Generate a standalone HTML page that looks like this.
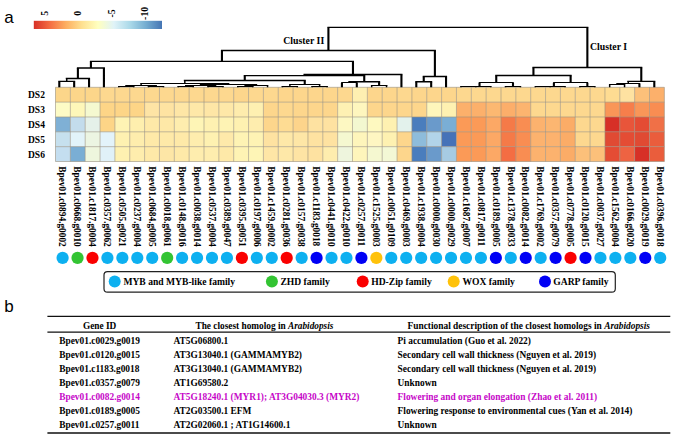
<!DOCTYPE html>
<html><head><meta charset="utf-8"><title>Figure</title>
<style>html,body{margin:0;padding:0;background:#fff;}svg{display:block;}
.s{font-family:"Liberation Serif",serif;font-weight:bold;}
.a{font-family:"Liberation Sans",sans-serif;}</style></head><body>
<svg width="674" height="437" viewBox="0 0 674 437">
<rect width="674" height="437" fill="#fff"/>
<defs><linearGradient id="cb" x1="0" x2="1" y1="0" y2="0"><stop offset="0" stop-color="#d73027"/><stop offset="0.125" stop-color="#f46d43"/><stop offset="0.25" stop-color="#fdae61"/><stop offset="0.375" stop-color="#fee090"/><stop offset="0.5" stop-color="#ffffbf"/><stop offset="0.625" stop-color="#e0f3f8"/><stop offset="0.75" stop-color="#abd9e9"/><stop offset="0.875" stop-color="#74add1"/><stop offset="1" stop-color="#4575b4"/></linearGradient></defs>
<text class="a" x="4.3" y="22.7" font-size="17">a</text>
<text class="a" x="4.3" y="312.2" font-size="17">b</text>
<rect x="33.8" y="20.8" width="128.2" height="8.2" fill="url(#cb)"/>
<text class="s" font-size="9.8" text-anchor="middle" transform="translate(47.80,13.35) rotate(-90)">5</text>
<text class="s" font-size="9.8" text-anchor="middle" transform="translate(81.30,13.35) rotate(-90)">0</text>
<text class="s" font-size="9.8" text-anchor="middle" transform="translate(114.60,13.35) rotate(-90)">-5</text>
<text class="s" font-size="9.8" text-anchor="middle" transform="translate(147.90,13.35) rotate(-90)">-10</text>
<g>
<rect x="55.50" y="87.30" width="14.90" height="14.89" fill="#fcd68a"/>
<rect x="70.35" y="87.30" width="14.90" height="14.89" fill="#fcd68a"/>
<rect x="85.20" y="87.30" width="14.90" height="14.89" fill="#fcd68a"/>
<rect x="100.05" y="87.30" width="14.90" height="14.89" fill="#fdd88f"/>
<rect x="114.90" y="87.30" width="14.90" height="14.89" fill="#fdd88f"/>
<rect x="129.75" y="87.30" width="14.90" height="14.89" fill="#fdd88f"/>
<rect x="144.60" y="87.30" width="14.90" height="14.89" fill="#fdd88f"/>
<rect x="159.45" y="87.30" width="14.90" height="14.89" fill="#fdd88f"/>
<rect x="174.30" y="87.30" width="14.90" height="14.89" fill="#fdd88f"/>
<rect x="189.15" y="87.30" width="14.90" height="14.89" fill="#fdd88f"/>
<rect x="204.00" y="87.30" width="14.90" height="14.89" fill="#fdd88f"/>
<rect x="218.85" y="87.30" width="14.90" height="14.89" fill="#fdd88f"/>
<rect x="233.70" y="87.30" width="14.90" height="14.89" fill="#fdd68c"/>
<rect x="248.55" y="87.30" width="14.90" height="14.89" fill="#fdd88f"/>
<rect x="263.40" y="87.30" width="14.90" height="14.89" fill="#fdd88f"/>
<rect x="278.25" y="87.30" width="14.90" height="14.89" fill="#fdd68c"/>
<rect x="293.10" y="87.30" width="14.90" height="14.89" fill="#fdd68c"/>
<rect x="307.95" y="87.30" width="14.90" height="14.89" fill="#fdd68c"/>
<rect x="322.80" y="87.30" width="14.90" height="14.89" fill="#fdd68c"/>
<rect x="337.65" y="87.30" width="14.90" height="14.89" fill="#fdd88f"/>
<rect x="352.50" y="87.30" width="14.90" height="14.89" fill="#feefb1"/>
<rect x="367.35" y="87.30" width="14.90" height="14.89" fill="#fdd68c"/>
<rect x="382.20" y="87.30" width="14.90" height="14.89" fill="#fdd68c"/>
<rect x="397.05" y="87.30" width="14.90" height="14.89" fill="#fdd88f"/>
<rect x="411.90" y="87.30" width="14.90" height="14.89" fill="#fdd68c"/>
<rect x="426.75" y="87.30" width="14.90" height="14.89" fill="#fdd68c"/>
<rect x="441.60" y="87.30" width="14.90" height="14.89" fill="#fdd68c"/>
<rect x="456.45" y="87.30" width="14.90" height="14.89" fill="#fdd88f"/>
<rect x="471.30" y="87.30" width="14.90" height="14.89" fill="#fdd88f"/>
<rect x="486.15" y="87.30" width="14.90" height="14.89" fill="#fdd88f"/>
<rect x="501.00" y="87.30" width="14.90" height="14.89" fill="#fdd88f"/>
<rect x="515.85" y="87.30" width="14.90" height="14.89" fill="#fdd88f"/>
<rect x="530.70" y="87.30" width="14.90" height="14.89" fill="#fdd88f"/>
<rect x="545.55" y="87.30" width="14.90" height="14.89" fill="#fdd88f"/>
<rect x="560.40" y="87.30" width="14.90" height="14.89" fill="#fdd88f"/>
<rect x="575.25" y="87.30" width="14.90" height="14.89" fill="#fdd88f"/>
<rect x="590.10" y="87.30" width="14.90" height="14.89" fill="#fdd88f"/>
<rect x="604.95" y="87.30" width="14.90" height="14.89" fill="#fedc92"/>
<rect x="619.80" y="87.30" width="14.90" height="14.89" fill="#fee2a1"/>
<rect x="634.65" y="87.30" width="14.90" height="14.89" fill="#fcc07a"/>
<rect x="649.50" y="87.30" width="14.90" height="14.89" fill="#fcb06b"/>
<rect x="55.50" y="102.14" width="14.90" height="14.89" fill="#fdfbc5"/>
<rect x="70.35" y="102.14" width="14.90" height="14.89" fill="#fef7b9"/>
<rect x="85.20" y="102.14" width="14.90" height="14.89" fill="#f5f9d0"/>
<rect x="100.05" y="102.14" width="14.90" height="14.89" fill="#fdd587"/>
<rect x="114.90" y="102.14" width="14.90" height="14.89" fill="#fdd587"/>
<rect x="129.75" y="102.14" width="14.90" height="14.89" fill="#fdd587"/>
<rect x="144.60" y="102.14" width="14.90" height="14.89" fill="#fee4a5"/>
<rect x="159.45" y="102.14" width="14.90" height="14.89" fill="#fee3a2"/>
<rect x="174.30" y="102.14" width="14.90" height="14.89" fill="#fee6a6"/>
<rect x="189.15" y="102.14" width="14.90" height="14.89" fill="#fee8a8"/>
<rect x="204.00" y="102.14" width="14.90" height="14.89" fill="#fee6a6"/>
<rect x="218.85" y="102.14" width="14.90" height="14.89" fill="#fee8a8"/>
<rect x="233.70" y="102.14" width="14.90" height="14.89" fill="#feecad"/>
<rect x="248.55" y="102.14" width="14.90" height="14.89" fill="#fef0b1"/>
<rect x="263.40" y="102.14" width="14.90" height="14.89" fill="#fdd68c"/>
<rect x="278.25" y="102.14" width="14.90" height="14.89" fill="#fdd88f"/>
<rect x="293.10" y="102.14" width="14.90" height="14.89" fill="#fdd68c"/>
<rect x="307.95" y="102.14" width="14.90" height="14.89" fill="#fdd68c"/>
<rect x="322.80" y="102.14" width="14.90" height="14.89" fill="#fdd68c"/>
<rect x="337.65" y="102.14" width="14.90" height="14.89" fill="#fef1b3"/>
<rect x="352.50" y="102.14" width="14.90" height="14.89" fill="#fef6be"/>
<rect x="367.35" y="102.14" width="14.90" height="14.89" fill="#fdd68c"/>
<rect x="382.20" y="102.14" width="14.90" height="14.89" fill="#fdd68c"/>
<rect x="397.05" y="102.14" width="14.90" height="14.89" fill="#fdd68c"/>
<rect x="411.90" y="102.14" width="14.90" height="14.89" fill="#fdd68c"/>
<rect x="426.75" y="102.14" width="14.90" height="14.89" fill="#fef6bb"/>
<rect x="441.60" y="102.14" width="14.90" height="14.89" fill="#fef1b1"/>
<rect x="456.45" y="102.14" width="14.90" height="14.89" fill="#fcb06b"/>
<rect x="471.30" y="102.14" width="14.90" height="14.89" fill="#fcb06b"/>
<rect x="486.15" y="102.14" width="14.90" height="14.89" fill="#fcb871"/>
<rect x="501.00" y="102.14" width="14.90" height="14.89" fill="#fcae6a"/>
<rect x="515.85" y="102.14" width="14.90" height="14.89" fill="#fcb46f"/>
<rect x="530.70" y="102.14" width="14.90" height="14.89" fill="#fdd88f"/>
<rect x="545.55" y="102.14" width="14.90" height="14.89" fill="#fdd88f"/>
<rect x="560.40" y="102.14" width="14.90" height="14.89" fill="#fdd88f"/>
<rect x="575.25" y="102.14" width="14.90" height="14.89" fill="#fdd88f"/>
<rect x="590.10" y="102.14" width="14.90" height="14.89" fill="#fdd88f"/>
<rect x="604.95" y="102.14" width="14.90" height="14.89" fill="#f99658"/>
<rect x="619.80" y="102.14" width="14.90" height="14.89" fill="#f67e4b"/>
<rect x="634.65" y="102.14" width="14.90" height="14.89" fill="#f99658"/>
<rect x="649.50" y="102.14" width="14.90" height="14.89" fill="#f98d52"/>
<rect x="55.50" y="116.98" width="14.90" height="14.89" fill="#7fb0d5"/>
<rect x="70.35" y="116.98" width="14.90" height="14.89" fill="#c3dcec"/>
<rect x="85.20" y="116.98" width="14.90" height="14.89" fill="#e5f1e9"/>
<rect x="100.05" y="116.98" width="14.90" height="14.89" fill="#fdd587"/>
<rect x="114.90" y="116.98" width="14.90" height="14.89" fill="#fef3b4"/>
<rect x="129.75" y="116.98" width="14.90" height="14.89" fill="#feefae"/>
<rect x="144.60" y="116.98" width="14.90" height="14.89" fill="#fee9a8"/>
<rect x="159.45" y="116.98" width="14.90" height="14.89" fill="#fee8a7"/>
<rect x="174.30" y="116.98" width="14.90" height="14.89" fill="#feedae"/>
<rect x="189.15" y="116.98" width="14.90" height="14.89" fill="#fef5b6"/>
<rect x="204.00" y="116.98" width="14.90" height="14.89" fill="#fef1b1"/>
<rect x="218.85" y="116.98" width="14.90" height="14.89" fill="#fef3b4"/>
<rect x="233.70" y="116.98" width="14.90" height="14.89" fill="#fef1b1"/>
<rect x="248.55" y="116.98" width="14.90" height="14.89" fill="#feedae"/>
<rect x="263.40" y="116.98" width="14.90" height="14.89" fill="#fdd68c"/>
<rect x="278.25" y="116.98" width="14.90" height="14.89" fill="#fedc93"/>
<rect x="293.10" y="116.98" width="14.90" height="14.89" fill="#fdd48b"/>
<rect x="307.95" y="116.98" width="14.90" height="14.89" fill="#fee2a1"/>
<rect x="322.80" y="116.98" width="14.90" height="14.89" fill="#fee2a1"/>
<rect x="337.65" y="116.98" width="14.90" height="14.89" fill="#fdf8c2"/>
<rect x="352.50" y="116.98" width="14.90" height="14.89" fill="#f3f8d0"/>
<rect x="367.35" y="116.98" width="14.90" height="14.89" fill="#fef9c0"/>
<rect x="382.20" y="116.98" width="14.90" height="14.89" fill="#fef1b1"/>
<rect x="397.05" y="116.98" width="14.90" height="14.89" fill="#e3f2ec"/>
<rect x="411.90" y="116.98" width="14.90" height="14.89" fill="#4a7dbd"/>
<rect x="426.75" y="116.98" width="14.90" height="14.89" fill="#6a9acb"/>
<rect x="441.60" y="116.98" width="14.90" height="14.89" fill="#7aaed5"/>
<rect x="456.45" y="116.98" width="14.90" height="14.89" fill="#fb9a57"/>
<rect x="471.30" y="116.98" width="14.90" height="14.89" fill="#fb9a57"/>
<rect x="486.15" y="116.98" width="14.90" height="14.89" fill="#fca865"/>
<rect x="501.00" y="116.98" width="14.90" height="14.89" fill="#f57a48"/>
<rect x="515.85" y="116.98" width="14.90" height="14.89" fill="#f98d52"/>
<rect x="530.70" y="116.98" width="14.90" height="14.89" fill="#fcb26e"/>
<rect x="545.55" y="116.98" width="14.90" height="14.89" fill="#fcb671"/>
<rect x="560.40" y="116.98" width="14.90" height="14.89" fill="#fbac67"/>
<rect x="575.25" y="116.98" width="14.90" height="14.89" fill="#fdd88f"/>
<rect x="590.10" y="116.98" width="14.90" height="14.89" fill="#fdd88f"/>
<rect x="604.95" y="116.98" width="14.90" height="14.89" fill="#d73027"/>
<rect x="619.80" y="116.98" width="14.90" height="14.89" fill="#e8553a"/>
<rect x="634.65" y="116.98" width="14.90" height="14.89" fill="#e44c34"/>
<rect x="649.50" y="116.98" width="14.90" height="14.89" fill="#f07047"/>
<rect x="55.50" y="131.82" width="14.90" height="14.89" fill="#c6e0ee"/>
<rect x="70.35" y="131.82" width="14.90" height="14.89" fill="#e2f3f9"/>
<rect x="85.20" y="131.82" width="14.90" height="14.89" fill="#ecf5e2"/>
<rect x="100.05" y="131.82" width="14.90" height="14.89" fill="#e3f3fa"/>
<rect x="114.90" y="131.82" width="14.90" height="14.89" fill="#fef1b1"/>
<rect x="129.75" y="131.82" width="14.90" height="14.89" fill="#feedad"/>
<rect x="144.60" y="131.82" width="14.90" height="14.89" fill="#fee9a8"/>
<rect x="159.45" y="131.82" width="14.90" height="14.89" fill="#fee9a8"/>
<rect x="174.30" y="131.82" width="14.90" height="14.89" fill="#fee9a8"/>
<rect x="189.15" y="131.82" width="14.90" height="14.89" fill="#feedae"/>
<rect x="204.00" y="131.82" width="14.90" height="14.89" fill="#fef1b1"/>
<rect x="218.85" y="131.82" width="14.90" height="14.89" fill="#fee9aa"/>
<rect x="233.70" y="131.82" width="14.90" height="14.89" fill="#fef3b4"/>
<rect x="248.55" y="131.82" width="14.90" height="14.89" fill="#fef3b4"/>
<rect x="263.40" y="131.82" width="14.90" height="14.89" fill="#fee2a1"/>
<rect x="278.25" y="131.82" width="14.90" height="14.89" fill="#fee8a8"/>
<rect x="293.10" y="131.82" width="14.90" height="14.89" fill="#fee6a6"/>
<rect x="307.95" y="131.82" width="14.90" height="14.89" fill="#fee2a1"/>
<rect x="322.80" y="131.82" width="14.90" height="14.89" fill="#fee2a1"/>
<rect x="337.65" y="131.82" width="14.90" height="14.89" fill="#f5f8d0"/>
<rect x="352.50" y="131.82" width="14.90" height="14.89" fill="#fef5bb"/>
<rect x="367.35" y="131.82" width="14.90" height="14.89" fill="#fef6c2"/>
<rect x="382.20" y="131.82" width="14.90" height="14.89" fill="#fef1b1"/>
<rect x="397.05" y="131.82" width="14.90" height="14.89" fill="#fdd68c"/>
<rect x="411.90" y="131.82" width="14.90" height="14.89" fill="#8ebcdb"/>
<rect x="426.75" y="131.82" width="14.90" height="14.89" fill="#b2d4e9"/>
<rect x="441.60" y="131.82" width="14.90" height="14.89" fill="#4672b8"/>
<rect x="456.45" y="131.82" width="14.90" height="14.89" fill="#fb9a57"/>
<rect x="471.30" y="131.82" width="14.90" height="14.89" fill="#fb9a57"/>
<rect x="486.15" y="131.82" width="14.90" height="14.89" fill="#fca865"/>
<rect x="501.00" y="131.82" width="14.90" height="14.89" fill="#f57a48"/>
<rect x="515.85" y="131.82" width="14.90" height="14.89" fill="#f98d52"/>
<rect x="530.70" y="131.82" width="14.90" height="14.89" fill="#fcb26e"/>
<rect x="545.55" y="131.82" width="14.90" height="14.89" fill="#fcb26e"/>
<rect x="560.40" y="131.82" width="14.90" height="14.89" fill="#fbac67"/>
<rect x="575.25" y="131.82" width="14.90" height="14.89" fill="#fdd88f"/>
<rect x="590.10" y="131.82" width="14.90" height="14.89" fill="#fdd88f"/>
<rect x="604.95" y="131.82" width="14.90" height="14.89" fill="#e04a33"/>
<rect x="619.80" y="131.82" width="14.90" height="14.89" fill="#e44c34"/>
<rect x="634.65" y="131.82" width="14.90" height="14.89" fill="#e04a33"/>
<rect x="649.50" y="131.82" width="14.90" height="14.89" fill="#ea5d3c"/>
<rect x="55.50" y="146.66" width="14.90" height="14.89" fill="#c4def0"/>
<rect x="70.35" y="146.66" width="14.90" height="14.89" fill="#7aaed4"/>
<rect x="85.20" y="146.66" width="14.90" height="14.89" fill="#eef6dd"/>
<rect x="100.05" y="146.66" width="14.90" height="14.89" fill="#e0f1f8"/>
<rect x="114.90" y="146.66" width="14.90" height="14.89" fill="#fef1b1"/>
<rect x="129.75" y="146.66" width="14.90" height="14.89" fill="#feedad"/>
<rect x="144.60" y="146.66" width="14.90" height="14.89" fill="#fee9a8"/>
<rect x="159.45" y="146.66" width="14.90" height="14.89" fill="#fde6a6"/>
<rect x="174.30" y="146.66" width="14.90" height="14.89" fill="#fee9a8"/>
<rect x="189.15" y="146.66" width="14.90" height="14.89" fill="#feedae"/>
<rect x="204.00" y="146.66" width="14.90" height="14.89" fill="#feedae"/>
<rect x="218.85" y="146.66" width="14.90" height="14.89" fill="#fee9a8"/>
<rect x="233.70" y="146.66" width="14.90" height="14.89" fill="#fef3b4"/>
<rect x="248.55" y="146.66" width="14.90" height="14.89" fill="#fef5b6"/>
<rect x="263.40" y="146.66" width="14.90" height="14.89" fill="#fee6a6"/>
<rect x="278.25" y="146.66" width="14.90" height="14.89" fill="#fee8a8"/>
<rect x="293.10" y="146.66" width="14.90" height="14.89" fill="#fee4a4"/>
<rect x="307.95" y="146.66" width="14.90" height="14.89" fill="#fee2a1"/>
<rect x="322.80" y="146.66" width="14.90" height="14.89" fill="#feedae"/>
<rect x="337.65" y="146.66" width="14.90" height="14.89" fill="#eef5dd"/>
<rect x="352.50" y="146.66" width="14.90" height="14.89" fill="#fef5bb"/>
<rect x="367.35" y="146.66" width="14.90" height="14.89" fill="#f5f8d0"/>
<rect x="382.20" y="146.66" width="14.90" height="14.89" fill="#f3f8d5"/>
<rect x="397.05" y="146.66" width="14.90" height="14.89" fill="#fdd68c"/>
<rect x="411.90" y="146.66" width="14.90" height="14.89" fill="#4a7dbd"/>
<rect x="426.75" y="146.66" width="14.90" height="14.89" fill="#6a9acb"/>
<rect x="441.60" y="146.66" width="14.90" height="14.89" fill="#a6cbe3"/>
<rect x="456.45" y="146.66" width="14.90" height="14.89" fill="#fb9a57"/>
<rect x="471.30" y="146.66" width="14.90" height="14.89" fill="#fb9a57"/>
<rect x="486.15" y="146.66" width="14.90" height="14.89" fill="#fca865"/>
<rect x="501.00" y="146.66" width="14.90" height="14.89" fill="#f46d43"/>
<rect x="515.85" y="146.66" width="14.90" height="14.89" fill="#f98d52"/>
<rect x="530.70" y="146.66" width="14.90" height="14.89" fill="#fcb26e"/>
<rect x="545.55" y="146.66" width="14.90" height="14.89" fill="#fcb26e"/>
<rect x="560.40" y="146.66" width="14.90" height="14.89" fill="#fbac67"/>
<rect x="575.25" y="146.66" width="14.90" height="14.89" fill="#fcc07a"/>
<rect x="590.10" y="146.66" width="14.90" height="14.89" fill="#fcc07a"/>
<rect x="604.95" y="146.66" width="14.90" height="14.89" fill="#e44c34"/>
<rect x="619.80" y="146.66" width="14.90" height="14.89" fill="#ee6342"/>
<rect x="634.65" y="146.66" width="14.90" height="14.89" fill="#d73027"/>
<rect x="649.50" y="146.66" width="14.90" height="14.89" fill="#ea5d3c"/>
</g>
<path d="M55.50 87.30V161.50M70.35 87.30V161.50M85.20 87.30V161.50M100.05 87.30V161.50M114.90 87.30V161.50M129.75 87.30V161.50M144.60 87.30V161.50M159.45 87.30V161.50M174.30 87.30V161.50M189.15 87.30V161.50M204.00 87.30V161.50M218.85 87.30V161.50M233.70 87.30V161.50M248.55 87.30V161.50M263.40 87.30V161.50M278.25 87.30V161.50M293.10 87.30V161.50M307.95 87.30V161.50M322.80 87.30V161.50M337.65 87.30V161.50M352.50 87.30V161.50M367.35 87.30V161.50M382.20 87.30V161.50M397.05 87.30V161.50M411.90 87.30V161.50M426.75 87.30V161.50M441.60 87.30V161.50M456.45 87.30V161.50M471.30 87.30V161.50M486.15 87.30V161.50M501.00 87.30V161.50M515.85 87.30V161.50M530.70 87.30V161.50M545.55 87.30V161.50M560.40 87.30V161.50M575.25 87.30V161.50M590.10 87.30V161.50M604.95 87.30V161.50M619.80 87.30V161.50M634.65 87.30V161.50M649.50 87.30V161.50M664.35 87.30V161.50M55.50 87.30H664.35M55.50 102.14H664.35M55.50 116.98H664.35M55.50 131.82H664.35M55.50 146.66H664.35M55.50 161.50H664.35" stroke="#989080" stroke-width="0.6" fill="none"/>
<text class="s" x="28.0" y="97.9" font-size="9.5">DS2</text>
<text class="s" x="28.0" y="112.9" font-size="9.5">DS3</text>
<text class="s" x="28.0" y="127.9" font-size="9.5">DS4</text>
<text class="s" x="28.0" y="142.9" font-size="9.5">DS5</text>
<text class="s" x="28.0" y="157.9" font-size="9.5">DS6</text>
<path d="M59.30 87.30V81.40M74.17 87.30V81.40M89.05 87.30V78.50M77.89 78.50V68.00M103.92 87.30V68.00M304.74 84.60V80.50M341.93 87.30V82.80M356.80 87.30V82.80M379.11 85.00V81.70M244.77 80.50V75.60M364.24 81.70V75.60M401.43 87.30V74.50M90.91 68.00V61.40M352.97 74.50V61.40M416.30 87.30V81.70M431.18 87.30V81.70M423.74 81.70V76.50M446.05 87.30V76.50M221.94 61.40V50.50M434.89 76.50V50.50M479.52 86.10V82.70M512.99 86.30V82.70M553.89 86.50V82.80M587.36 86.40V82.80M496.25 82.70V75.50M570.63 82.80V75.50M639.42 87.30V83.40M654.30 87.30V81.40M533.44 75.50V67.50M641.28 81.40V67.50M328.42 50.50V27.40M587.36 67.50V27.40" stroke="#000" stroke-width="2.1" fill="none"/>
<path d="M66.74 81.40V78.50M118.80 87.30V86.20M133.68 87.30V86.20M148.55 87.30V86.00M163.43 87.30V86.00M126.24 86.20V85.00M155.99 86.00V85.00M178.30 87.30V86.00M193.18 87.30V86.00M208.05 87.30V86.30M222.93 87.30V86.30M185.74 86.00V85.50M215.49 86.30V85.50M237.80 87.30V86.00M252.68 87.30V86.00M245.24 86.00V85.50M267.55 87.30V85.50M200.61 85.50V84.30M256.39 85.50V84.30M141.11 85.00V83.30M228.50 84.30V83.30M282.43 87.30V86.00M297.30 87.30V86.00M312.18 87.30V86.00M327.05 87.30V86.00M289.86 86.00V84.60M319.61 86.00V84.60M184.81 83.30V80.50M371.68 87.30V85.00M386.55 87.30V85.00M349.36 82.80V81.70M304.51 75.60V74.50M460.93 87.30V86.60M475.80 87.30V86.60M468.36 86.60V86.10M490.68 87.30V86.10M505.55 87.30V86.30M520.42 87.30V86.30M535.30 87.30V86.90M550.17 87.30V86.90M542.74 86.90V86.50M565.05 87.30V86.50M579.92 87.30V86.40M594.80 87.30V86.40M609.67 87.30V84.50M624.55 87.30V84.50M617.11 84.50V83.40M628.27 83.40V81.40" stroke="#000" stroke-width="1.5" fill="none"/>
<path d="M58.30 81.40H75.17M65.74 78.50H90.05M76.89 68.00H104.92M183.81 80.50H305.74M348.36 81.70H380.11M243.77 75.60H365.24M303.51 74.50H402.43M89.91 61.40H353.97M415.30 81.70H432.18M422.74 76.50H447.05M220.94 50.50H435.89M495.25 75.50H571.63M627.27 81.40H655.30M532.44 67.50H642.28M327.42 27.40H588.36" stroke="#000" stroke-width="1.35" fill="none"/>
<path d="M118.10 86.50H134.38M147.85 86.50H164.12M125.54 85.50H156.69M177.60 86.50H193.88M207.35 86.50H223.62M185.04 85.50H216.19M237.10 86.50H253.38M244.54 85.50H268.25M199.91 84.50H257.09M140.41 83.50H229.20M281.73 86.50H298.00M311.48 86.50H327.75M289.16 84.50H320.31M341.23 82.50H357.50M370.98 85.50H387.25M460.23 86.50H476.50M467.66 86.50H491.38M504.85 86.50H521.12M478.82 82.50H513.69M534.60 86.50H550.88M542.04 86.50H565.75M579.22 86.50H595.50M553.19 82.50H588.06M608.97 84.50H625.25M616.41 83.50H640.12" stroke="#000" stroke-width="1.0" fill="none"/>
<text class="s" x="283.3" y="43.8" font-size="9.8">Cluster II</text>
<text class="s" x="590.0" y="50.1" font-size="9.8">Cluster I</text>
<text class="s" font-size="9.35" transform="translate(59.30,166.3) rotate(90)">Bpev01.c0894.g0002</text>
<text class="s" font-size="9.35" transform="translate(74.24,166.3) rotate(90)">Bpev01.c0668.g0010</text>
<text class="s" font-size="9.35" transform="translate(89.18,166.3) rotate(90)">Bpev01.c1817.g0004</text>
<text class="s" font-size="9.35" transform="translate(104.12,166.3) rotate(90)">Bpev01.c0357.g0062</text>
<text class="s" font-size="9.35" transform="translate(119.06,166.3) rotate(90)">Bpev01.c0505.g0021</text>
<text class="s" font-size="9.35" transform="translate(134.00,166.3) rotate(90)">Bpev01.c0237.g0004</text>
<text class="s" font-size="9.35" transform="translate(148.94,166.3) rotate(90)">Bpev01.c0684.g0005</text>
<text class="s" font-size="9.35" transform="translate(163.88,166.3) rotate(90)">Bpev01.c0018.g0061</text>
<text class="s" font-size="9.35" transform="translate(178.82,166.3) rotate(90)">Bpev01.c0148.g0016</text>
<text class="s" font-size="9.35" transform="translate(193.76,166.3) rotate(90)">Bpev01.c0038.g0014</text>
<text class="s" font-size="9.35" transform="translate(208.70,166.3) rotate(90)">Bpev01.c0537.g0004</text>
<text class="s" font-size="9.35" transform="translate(223.64,166.3) rotate(90)">Bpev01.c0389.g0047</text>
<text class="s" font-size="9.35" transform="translate(238.58,166.3) rotate(90)">Bpev01.c0395.g0051</text>
<text class="s" font-size="9.35" transform="translate(253.52,166.3) rotate(90)">Bpev01.c0197.g0006</text>
<text class="s" font-size="9.35" transform="translate(268.46,166.3) rotate(90)">Bpev01.c1459.g0002</text>
<text class="s" font-size="9.35" transform="translate(283.40,166.3) rotate(90)">Bpev01.c0281.g0036</text>
<text class="s" font-size="9.35" transform="translate(298.34,166.3) rotate(90)">Bpev01.c0157.g0038</text>
<text class="s" font-size="9.35" transform="translate(313.28,166.3) rotate(90)">Bpev01.c1183.g0018</text>
<text class="s" font-size="9.35" transform="translate(328.22,166.3) rotate(90)">Bpev01.c0441.g0010</text>
<text class="s" font-size="9.35" transform="translate(343.16,166.3) rotate(90)">Bpev01.c0422.g0010</text>
<text class="s" font-size="9.35" transform="translate(358.10,166.3) rotate(90)">Bpev01.c0257.g0011</text>
<text class="s" font-size="9.35" transform="translate(373.04,166.3) rotate(90)">Bpev01.c1525.g0003</text>
<text class="s" font-size="9.35" transform="translate(387.98,166.3) rotate(90)">Bpev01.c0051.g0109</text>
<text class="s" font-size="9.35" transform="translate(402.92,166.3) rotate(90)">Bpev01.c0469.g0003</text>
<text class="s" font-size="9.35" transform="translate(417.86,166.3) rotate(90)">Bpev01.c1938.g0004</text>
<text class="s" font-size="9.35" transform="translate(432.80,166.3) rotate(90)">Bpev01.c0000.g0030</text>
<text class="s" font-size="9.35" transform="translate(447.74,166.3) rotate(90)">Bpev01.c0000.g0029</text>
<text class="s" font-size="9.35" transform="translate(462.68,166.3) rotate(90)">Bpev01.c1687.g0007</text>
<text class="s" font-size="9.35" transform="translate(477.62,166.3) rotate(90)">Bpev01.c0817.g0011</text>
<text class="s" font-size="9.35" transform="translate(492.56,166.3) rotate(90)">Bpev01.c0189.g0005</text>
<text class="s" font-size="9.35" transform="translate(507.50,166.3) rotate(90)">Bpev01.c1378.g0033</text>
<text class="s" font-size="9.35" transform="translate(522.44,166.3) rotate(90)">Bpev01.c0082.g0014</text>
<text class="s" font-size="9.35" transform="translate(537.38,166.3) rotate(90)">Bpev01.c1769.g0002</text>
<text class="s" font-size="9.35" transform="translate(552.32,166.3) rotate(90)">Bpev01.c0357.g0079</text>
<text class="s" font-size="9.35" transform="translate(567.26,166.3) rotate(90)">Bpev01.c0778.g0005</text>
<text class="s" font-size="9.35" transform="translate(582.20,166.3) rotate(90)">Bpev01.c0120.g0015</text>
<text class="s" font-size="9.35" transform="translate(597.14,166.3) rotate(90)">Bpev01.c0037.g0027</text>
<text class="s" font-size="9.35" transform="translate(612.08,166.3) rotate(90)">Bpev01.c1562.g0004</text>
<text class="s" font-size="9.35" transform="translate(627.02,166.3) rotate(90)">Bpev01.c0166.g0020</text>
<text class="s" font-size="9.35" transform="translate(641.96,166.3) rotate(90)">Bpev01.c0029.g0019</text>
<text class="s" font-size="9.35" transform="translate(656.90,166.3) rotate(90)">Bpev01.c0396.g0018</text>
<circle cx="62.60" cy="257.9" r="6.1" fill="#0db0f0"/>
<circle cx="77.54" cy="257.9" r="6.1" fill="#33c433"/>
<circle cx="92.48" cy="257.9" r="6.1" fill="#fa0000"/>
<circle cx="107.42" cy="257.9" r="6.1" fill="#0db0f0"/>
<circle cx="122.36" cy="257.9" r="6.1" fill="#0db0f0"/>
<circle cx="137.30" cy="257.9" r="6.1" fill="#0db0f0"/>
<circle cx="152.24" cy="257.9" r="6.1" fill="#0db0f0"/>
<circle cx="167.18" cy="257.9" r="6.1" fill="#33c433"/>
<circle cx="182.12" cy="257.9" r="6.1" fill="#0db0f0"/>
<circle cx="197.06" cy="257.9" r="6.1" fill="#0db0f0"/>
<circle cx="212.00" cy="257.9" r="6.1" fill="#0db0f0"/>
<circle cx="226.94" cy="257.9" r="6.1" fill="#0db0f0"/>
<circle cx="241.88" cy="257.9" r="6.1" fill="#fa0000"/>
<circle cx="256.82" cy="257.9" r="6.1" fill="#0db0f0"/>
<circle cx="271.76" cy="257.9" r="6.1" fill="#0db0f0"/>
<circle cx="286.70" cy="257.9" r="6.1" fill="#fa0000"/>
<circle cx="301.64" cy="257.9" r="6.1" fill="#0db0f0"/>
<circle cx="316.58" cy="257.9" r="6.1" fill="#0000f5"/>
<circle cx="331.52" cy="257.9" r="6.1" fill="#0db0f0"/>
<circle cx="346.46" cy="257.9" r="6.1" fill="#0db0f0"/>
<circle cx="361.40" cy="257.9" r="6.1" fill="#0000f5"/>
<circle cx="376.34" cy="257.9" r="6.1" fill="#ffc20a"/>
<circle cx="391.28" cy="257.9" r="6.1" fill="#0db0f0"/>
<circle cx="406.22" cy="257.9" r="6.1" fill="#0db0f0"/>
<circle cx="421.16" cy="257.9" r="6.1" fill="#0db0f0"/>
<circle cx="436.10" cy="257.9" r="6.1" fill="#0db0f0"/>
<circle cx="451.04" cy="257.9" r="6.1" fill="#0db0f0"/>
<circle cx="465.98" cy="257.9" r="6.1" fill="#0db0f0"/>
<circle cx="480.92" cy="257.9" r="6.1" fill="#0db0f0"/>
<circle cx="495.86" cy="257.9" r="6.1" fill="#0000f5"/>
<circle cx="510.80" cy="257.9" r="6.1" fill="#0db0f0"/>
<circle cx="525.74" cy="257.9" r="6.1" fill="#0000f5"/>
<circle cx="540.68" cy="257.9" r="6.1" fill="#0db0f0"/>
<circle cx="555.62" cy="257.9" r="6.1" fill="#0000f5"/>
<circle cx="570.56" cy="257.9" r="6.1" fill="#fa0000"/>
<circle cx="585.50" cy="257.9" r="6.1" fill="#0000f5"/>
<circle cx="600.44" cy="257.9" r="6.1" fill="#0db0f0"/>
<circle cx="615.38" cy="257.9" r="6.1" fill="#0db0f0"/>
<circle cx="630.32" cy="257.9" r="6.1" fill="#0db0f0"/>
<circle cx="645.26" cy="257.9" r="6.1" fill="#0000f5"/>
<circle cx="660.20" cy="257.9" r="6.1" fill="#0db0f0"/>
<rect x="104" y="271.6" width="511.3" height="20.6" rx="3.5" fill="none" stroke="#222" stroke-width="1.2"/>
<circle cx="114.7" cy="281.4" r="6" fill="#0db0f0"/>
<text class="s" x="123.4" y="285.3" font-size="9.6">MYB and MYB-like family</text>
<circle cx="271.9" cy="281.4" r="6" fill="#33c433"/>
<text class="s" x="280.4" y="285.3" font-size="9.6">ZHD family</text>
<circle cx="362.7" cy="281.4" r="6" fill="#fa0000"/>
<text class="s" x="371.2" y="285.3" font-size="9.6">HD-Zip family</text>
<circle cx="453.7" cy="281.4" r="6" fill="#ffc20a"/>
<text class="s" x="462.4" y="285.3" font-size="9.6">WOX family</text>
<circle cx="545" cy="281.4" r="6" fill="#0000f5"/>
<text class="s" x="553.3" y="285.3" font-size="9.6">GARP family</text>
<path d="M47.4 316.4H670.3M47.4 332.2H670.3M47.4 433.0H670.3" stroke="#111" stroke-width="1.3" fill="none"/>
<text class="s" x="99.6" y="328.8" font-size="9.3" text-anchor="middle">Gene ID</text>
<text class="s" x="195.5" y="328.8" font-size="9.3">The closest homolog in <tspan font-style="italic">Arabidopsis</tspan></text>
<text class="s" x="407.5" y="328.8" font-size="9.4">Functional description of the closest homologs in <tspan font-style="italic">Arabidopsis</tspan></text>
<text class="s" y="344.00" font-size="9.4"><tspan x="59.2">Bpev01.c0029.g0019</tspan><tspan x="173.5">AT5G06800.1</tspan><tspan x="397.6">Pi accumulation (Guo et al. 2022)</tspan></text>
<text class="s" y="357.95" font-size="9.4"><tspan x="59.2">Bpev01.c0120.g0015</tspan><tspan x="173.5">AT3G13040.1 (GAMMAMYB2)</tspan><tspan x="397.6">Secondary cell wall thickness (Nguyen et al. 2019)</tspan></text>
<text class="s" y="371.90" font-size="9.4"><tspan x="59.2">Bpev01.c1183.g0018</tspan><tspan x="173.5">AT3G13040.1 (GAMMAMYB2)</tspan><tspan x="397.6">Secondary cell wall thickness (Nguyen et al. 2019)</tspan></text>
<text class="s" y="385.85" font-size="9.4"><tspan x="59.2">Bpev01.c0357.g0079</tspan><tspan x="173.5">AT1G69580.2</tspan><tspan x="397.6">Unknown</tspan></text>
<text class="s" y="399.80" font-size="9.4" fill="#c606c8"><tspan x="59.2">Bpev01.c0082.g0014</tspan><tspan x="173.5">AT5G18240.1 (MYR1); AT3G04030.3 (MYR2)</tspan><tspan x="397.6">Flowering and organ elongation (Zhao et al. 2011)</tspan></text>
<text class="s" y="413.75" font-size="9.4"><tspan x="59.2">Bpev01.c0189.g0005</tspan><tspan x="173.5">AT2G03500.1 EFM</tspan><tspan x="397.6">Flowering response to environmental cues (Yan et al. 2014)</tspan></text>
<text class="s" y="427.70" font-size="9.4"><tspan x="59.2">Bpev01.c0257.g0011</tspan><tspan x="173.5">AT2G02060.1 ; AT1G14600.1</tspan><tspan x="397.6">Unknown</tspan></text>
</svg></body></html>
